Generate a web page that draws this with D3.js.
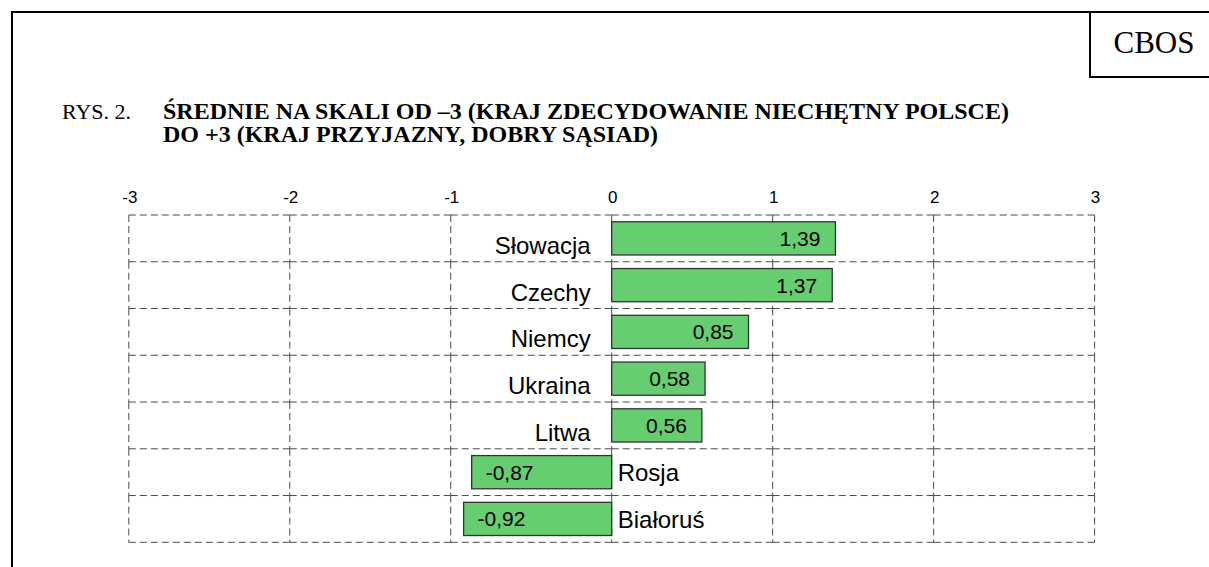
<!DOCTYPE html>
<html>
<head>
<meta charset="utf-8">
<script src="https://cdn.jsdelivr.net/npm/d3@7"></script>
<style>
  html, body { margin: 0; padding: 0; background: #fff; }
  svg { display: block; }
</style>
</head>
<body>
<svg id="chart" width="1209" height="567"></svg>
<script>
const categories = ["Słowacja", "Czechy", "Niemcy", "Ukraina", "Litwa", "Rosja", "Białoruś"];
const values = [1.39, 1.37, 0.85, 0.58, 0.56, -0.87, -0.92];
const valueLabels = ["1,39", "1,37", "0,85", "0,58", "0,56", "-0,87", "-0,92"];
const tickValues = [-3, -2, -1, 0, 1, 2, 3];
const tickLabels = ["-3", "-2", "-1", "0", "1", "2", "3"];
const titleLabel = "RYS. 2.";
const titleLines = ["ŚREDNIE NA SKALI OD –3 (KRAJ ZDECYDOWANIE NIECHĘTNY POLSCE)", "DO +3 (KRAJ PRZYJAZNY, DOBRY SĄSIAD)"];
const brand = "CBOS";

const svg = d3.select("#chart");
const W = 1209, H = 567;
const serif = "Liberation Serif, Times New Roman, serif";
const sans = "Liberation Sans, Arial, sans-serif";

// frame
svg.append("line").attr("x1", 11).attr("x2", W).attr("y1", 12).attr("y2", 12)
  .attr("stroke", "#000").attr("stroke-width", 2);
svg.append("line").attr("x1", 12).attr("x2", 12).attr("y1", 11).attr("y2", H)
  .attr("stroke", "#000").attr("stroke-width", 2);
svg.append("line").attr("x1", 1090).attr("x2", 1090).attr("y1", 12).attr("y2", 77)
  .attr("stroke", "#000").attr("stroke-width", 2);
svg.append("line").attr("x1", 1089).attr("x2", W).attr("y1", 77).attr("y2", 77)
  .attr("stroke", "#000").attr("stroke-width", 2);
svg.append("text").attr("x", 1154).attr("y", 53).attr("text-anchor", "middle")
  .attr("font-family", serif).attr("font-size", 31)
  .text(brand);

// title
svg.append("text").attr("x", 62).attr("y", 118.5)
  .attr("font-family", serif).attr("font-size", 22)
  .text(titleLabel);
const title = svg.append("text").attr("x", 163).attr("y", 118.5)
  .attr("font-family", serif).attr("font-size", 24).attr("font-weight", "bold");
titleLines.forEach((t, i) => {
  title.append("tspan").attr("x", 163).attr("dy", i === 0 ? 0 : 23.5).text(t);
});

// scales
const x = d3.scaleLinear().domain([-3, 3]).range([128.8, 1094.6]);
const y = d3.scaleBand().domain(categories).range([215, 542.3]).padding(0);
const bw = y.bandwidth();
const barH = bw * 0.71;

// grid
const grid = svg.append("g").attr("stroke", "#4a4a4a").attr("stroke-width", 1)
  .attr("stroke-dasharray", "7,4").attr("fill", "none");
const rowEdges = categories.map(c => y(c)).concat([y.range()[1]]);
rowEdges.forEach(yy => {
  for (let i = 0; i < tickValues.length - 1; i++) {
    grid.append("line")
      .attr("x1", x(tickValues[i])).attr("x2", x(tickValues[i + 1]))
      .attr("y1", yy).attr("y2", yy);
  }
});
tickValues.forEach(t => {
  for (let j = 0; j < rowEdges.length - 1; j++) {
    grid.append("line")
      .attr("x1", x(t)).attr("x2", x(t))
      .attr("y1", rowEdges[j]).attr("y2", rowEdges[j + 1]);
  }
});

// tick labels
svg.append("g").selectAll("text").data(tickValues).join("text")
  .attr("x", d => x(d) + 1).attr("y", 203).attr("text-anchor", "middle")
  .attr("font-family", sans).attr("font-size", 17)
  .text((d, i) => tickLabels[i]);

// bars
const data = categories.map((c, i) => ({ c, v: values[i], label: valueLabels[i] }));
svg.append("g").selectAll("rect").data(data).join("rect")
  .attr("x", d => Math.min(x(0), x(d.v)))
  .attr("width", d => Math.abs(x(d.v) - x(0)))
  .attr("y", d => y(d.c) + (bw - barH) / 2)
  .attr("height", barH)
  .attr("fill", "#66cd70").attr("stroke", "#333").attr("stroke-width", 1.3);

// value labels
svg.append("g").selectAll("text").data(data).join("text")
  .attr("x", d => d.v >= 0 ? x(d.v) - 15 : x(d.v) + 14)
  .attr("y", d => y(d.c) + bw / 2 + 7.5)
  .attr("text-anchor", d => d.v >= 0 ? "end" : "start")
  .attr("font-family", sans).attr("font-size", 21)
  .text(d => d.label);

// category labels
svg.append("g").selectAll("text").data(data).join("text")
  .attr("x", d => d.v >= 0 ? x(0) - 21 : x(0) + 6)
  .attr("y", d => y(d.c) + bw / 2 + (d.v >= 0 ? 15.5 : 9))
  .attr("text-anchor", d => d.v >= 0 ? "end" : "start")
  .attr("font-family", sans).attr("font-size", 24)
  .text(d => d.c);
</script>
</body>
</html>
